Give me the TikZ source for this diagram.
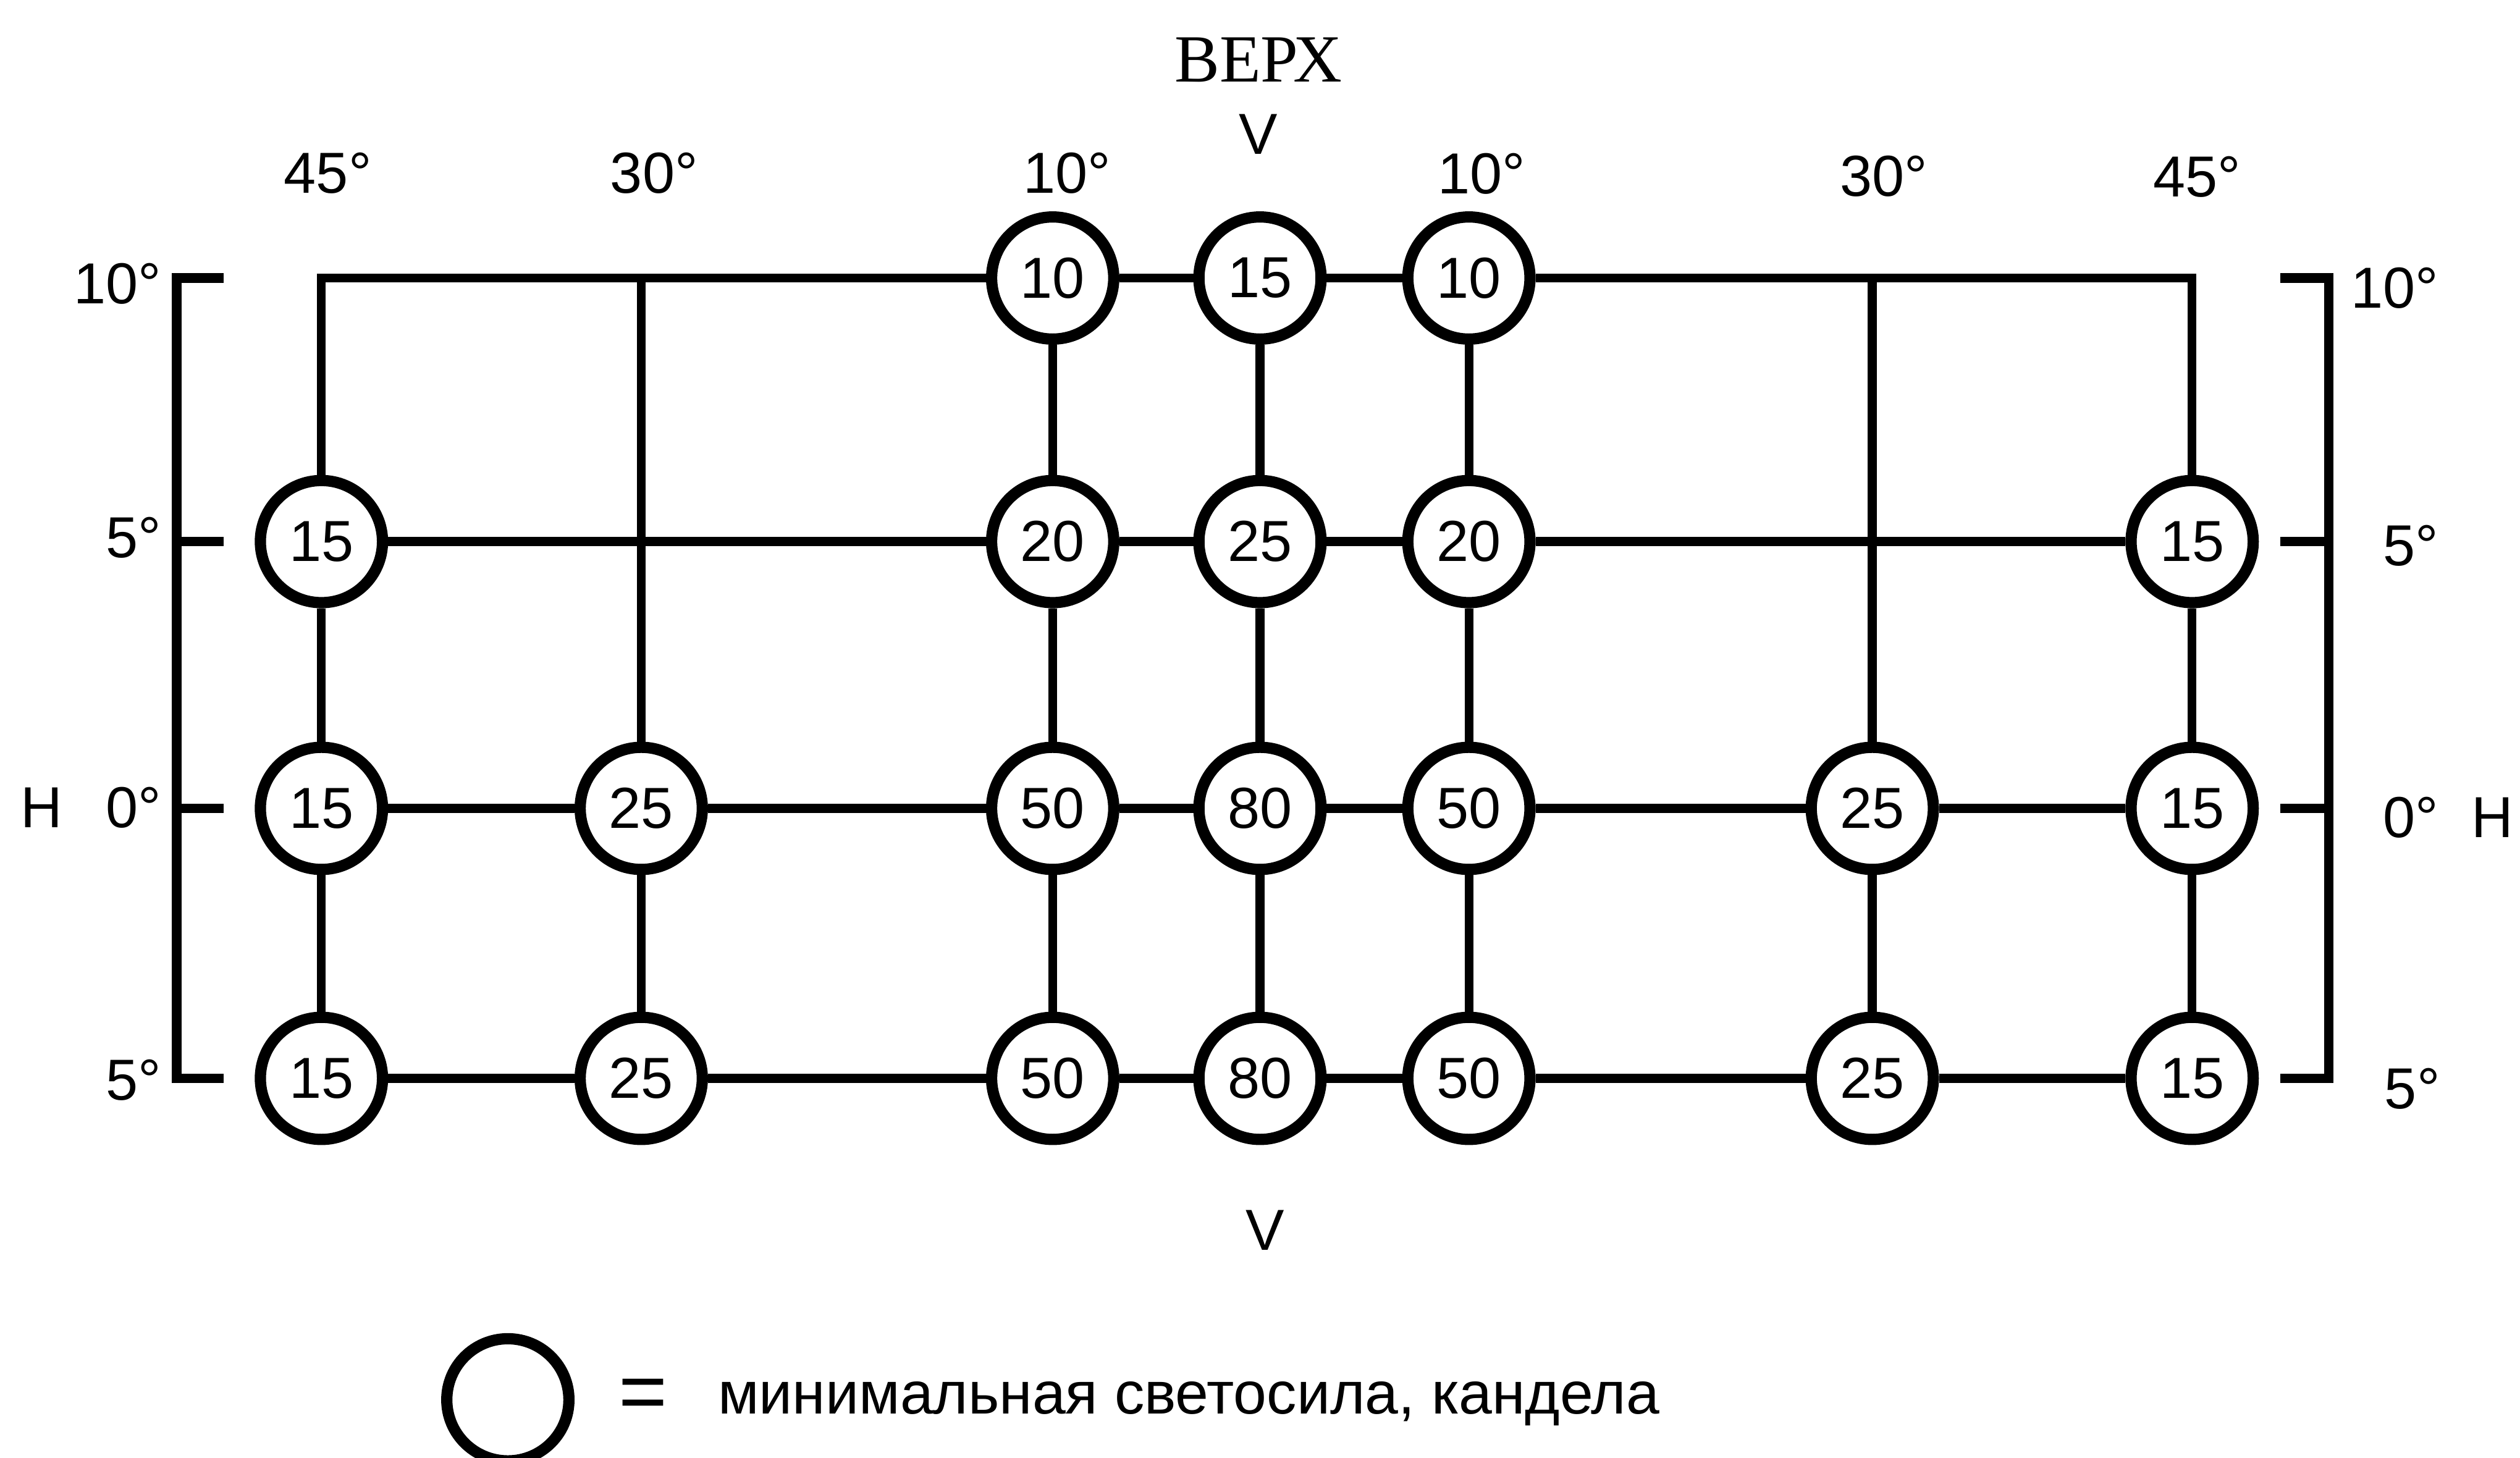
\documentclass[tikz,border=0pt]{standalone}
\usepackage{fontspec}
\setmainfont{Liberation Sans}
\newfontfamily\seriffont{Liberation Serif}
\begin{document}
\begin{tikzpicture}[x=0.25pt,y=-0.25pt,
  lamp/.style={circle,draw,line width=1.75pt,minimum size=19pt,inner sep=0pt,font=\fontsize{9}{10}\selectfont},
  grid/.style={line width=1.375pt,line join=miter},
  brk/.style={line width=1.5pt,line join=miter},
  lbl/.style={anchor=base,inner sep=0pt,font=\fontsize{9}{10}\selectfont}]
\useasboundingbox (0,0) rectangle (1568,907);
% columns / rows
\def\cA{200}\def\cB{399}\def\cC{655}\def\cD{784}\def\cE{914}\def\cF{1165}\def\cG{1364}
\def\rA{173}\def\rB{337}\def\rC{503}\def\rD{671}
% lamps
\node[lamp] (c1) at (\cC,\rA) {10};
\node[lamp] (d1) at (\cD,\rA) {15};
\node[lamp] (e1) at (\cE,\rA) {10};
\node[lamp] (a2) at (\cA,\rB) {15};
\node[lamp] (c2) at (\cC,\rB) {20};
\node[lamp] (d2) at (\cD,\rB) {25};
\node[lamp] (e2) at (\cE,\rB) {20};
\node[lamp] (g2) at (\cG,\rB) {15};
\node[lamp] (a3) at (\cA,\rC) {15};
\node[lamp] (b3) at (\cB,\rC) {25};
\node[lamp] (c3) at (\cC,\rC) {50};
\node[lamp] (d3) at (\cD,\rC) {80};
\node[lamp] (e3) at (\cE,\rC) {50};
\node[lamp] (f3) at (\cF,\rC) {25};
\node[lamp] (g3) at (\cG,\rC) {15};
\node[lamp] (a4) at (\cA,\rD) {15};
\node[lamp] (b4) at (\cB,\rD) {25};
\node[lamp] (c4) at (\cC,\rD) {50};
\node[lamp] (d4) at (\cD,\rD) {80};
\node[lamp] (e4) at (\cE,\rD) {50};
\node[lamp] (f4) at (\cF,\rD) {25};
\node[lamp] (g4) at (\cG,\rD) {15};
% top corners
\coordinate (tl) at (\cA,\rA);
\coordinate (tr) at (\cG,\rA);
\coordinate (tb) at (\cB,\rA);
\coordinate (tf) at (\cF,\rA);
% grid lines
\draw[grid] (a2) -- (tl) -- (c1);
\draw[grid] (c1) -- (d1);
\draw[grid] (d1) -- (e1);
\draw[grid] (e1) -- (tr) -- (g2);
\draw[grid] (tb) -- (b3);
\draw[grid] (tf) -- (f3);
\draw[grid] (c1) -- (c2); \draw[grid] (c2) -- (c3); \draw[grid] (c3) -- (c4);
\draw[grid] (d1) -- (d2); \draw[grid] (d2) -- (d3); \draw[grid] (d3) -- (d4);
\draw[grid] (e1) -- (e2); \draw[grid] (e2) -- (e3); \draw[grid] (e3) -- (e4);
\draw[grid] (a2) -- (a3); \draw[grid] (a3) -- (a4);
\draw[grid] (g2) -- (g3); \draw[grid] (g3) -- (g4);
\draw[grid] (b3) -- (b4); \draw[grid] (f3) -- (f4);
\draw[grid] (a2) -- (c2); \draw[grid] (c2) -- (d2); \draw[grid] (d2) -- (e2); \draw[grid] (e2) -- (g2);
\draw[grid] (a3) -- (b3); \draw[grid] (b3) -- (c3); \draw[grid] (c3) -- (d3); \draw[grid] (d3) -- (e3); \draw[grid] (e3) -- (f3); \draw[grid] (f3) -- (g3);
\draw[grid] (a4) -- (b4); \draw[grid] (b4) -- (c4); \draw[grid] (c4) -- (d4); \draw[grid] (d4) -- (e4); \draw[grid] (e4) -- (f4); \draw[grid] (f4) -- (g4);
% brackets
\coordinate (lbt) at (139,\rA); \coordinate (lbtc) at (110,\rA);
\coordinate (lbb) at (139,\rD); \coordinate (lbbc) at (110,\rD);
\draw[brk] (lbt) -- (lbtc) -- (lbbc) -- (lbb);
\coordinate (lt2) at (139,\rB); \coordinate (lt2c) at (110,\rB);
\coordinate (lt3) at (139,\rC); \coordinate (lt3c) at (110,\rC);
\draw[brk] (lt2c) -- (lt2); \draw[brk] (lt3c) -- (lt3);
\coordinate (rbt) at (1419,\rA); \coordinate (rbtc) at (1449,\rA);
\coordinate (rbb) at (1419,\rD); \coordinate (rbbc) at (1449,\rD);
\draw[brk] (rbt) -- (rbtc) -- (rbbc) -- (rbb);
\coordinate (rt2) at (1419,\rB); \coordinate (rt2c) at (1449,\rB);
\coordinate (rt3) at (1419,\rC); \coordinate (rt3c) at (1449,\rC);
\draw[brk] (rt2c) -- (rt2); \draw[brk] (rt3c) -- (rt3);
% top labels
\node[anchor=base,inner sep=0pt,font=\seriffont\fontsize{10.5}{12}\selectfont] (verh) at (783,51) {ВЕРХ};
\node[lbl] (vtop) at (783,96) {V};
\node[lbl] (t45l) at (204,120) {45°};
\node[lbl] (t30l) at (407,120) {30°};
\node[lbl] (t10l) at (664,120) {10°};
\node[lbl] (t10r) at (922,120.5) {10°};
\node[lbl] (t30r) at (1172,122) {30°};
\node[lbl] (t45r) at (1367,122.5) {45°};
% left labels
\node[lbl] (l10) at (73,189) {10°};
\node[lbl] (l5) at (83,347) {5°};
\node[lbl] (l0) at (83,515) {0°};
\node[lbl] (lH) at (26,515) {H};
\node[lbl] (lm5) at (83,684.6) {5°};
% right labels
\node[lbl] (r10) at (1490,191.5) {10°};
\node[lbl] (r5) at (1500,352) {5°};
\node[lbl] (r0) at (1500,521) {0°};
\node[lbl] (rH) at (1551,521) {H};
\node[lbl] (rm5) at (1501,690) {5°};
% bottom label
\node[lbl] (vbot) at (787,778) {V};
% legend
\node[lamp] (leg) at (316,871) {};
\node[anchor=center,inner sep=0pt,font=\fontsize{13}{14}\selectfont] (eq) at (400,871) {=};
\node[anchor=base west,inner sep=0pt,font=\fontsize{9.3}{11}\selectfont] (legtxt) at (446,879.6) {минимальная светосила, кандела};
\end{tikzpicture}
\end{document}
